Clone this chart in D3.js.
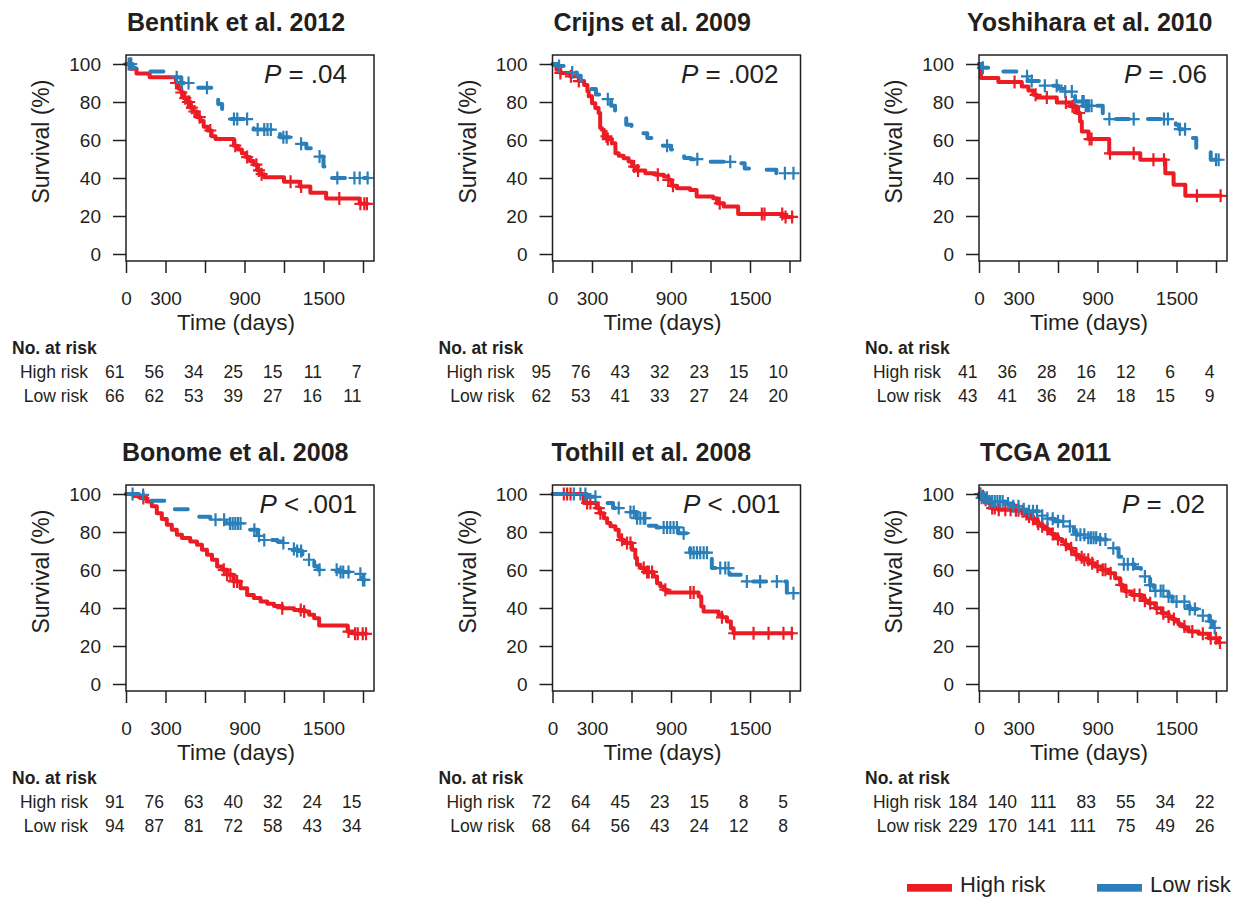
<!DOCTYPE html>
<html><head><meta charset="utf-8">
<script src="https://cdn.jsdelivr.net/npm/d3@7"></script>
<style>
body{margin:0;background:#fff}
svg{display:block}
text{font-family:"Liberation Sans",Arial,Helvetica,sans-serif;fill:#231f20}
</style>
</head><body>
<svg id="chart" width="1234" height="897"></svg>
<script>
// ---------- data ----------
const studies = ["Bentink et al. 2012","Crijns et al. 2009","Yoshihara et al. 2010","Bonome et al. 2008","Tothill et al. 2008","TCGA 2011"];
const pOps = ["=","=","=","<","<","="];
const pVals = [".04",".002",".06",".001",".001",".02"];
const groupNames = ["High risk","Low risk"];
const groupColors = ["#ec1c24","#2a7fba"];
const xTicks = [0,300,600,900,1200,1500,1800];
const xTickLabels = ["0","300","","900","","1500",""];
const yTicks = [0,20,40,60,80,100];

// step curves: [time (days), survival % after the drop]
const bentinkHigh = [[0,100],[40,97.5],[80,95],[180,93],[380,90],[400,87],[420,85],[440,82],[460,80],[490,77],[510,75],[540,72],[565,70],[590,67],[620,65],[650,62],[680,60.5],[820,57],[850,55],[880,53],[910,51],[940,49],[970,47],[1000,44],[1025,42],[1050,40.4],[1200,38],[1320,35.5],[1400,32.3],[1520,29.2],[1775,26.4]];
const bentinkHighCens = [30,380,420,450,470,480,500,520,560,640,830,920,990,1010,1030,1250,1330,1620,1780,1810,1830];
const bentinkLow = [[0,100],[50,98],[150,96],[330,93],[420,90],[520,87.5],[660,83],[700,79],[730,71],[940,68],[970,65.5],[1170,61.5],[1270,58],[1370,55.7],[1430,51.3],[1500,46],[1510,42],[1520,40]];
const bentinkLowCens = [20,40,385,425,475,615,820,845,920,1000,1050,1075,1100,1195,1220,1330,1470,1605,1735,1775,1835];

const crijnsHigh = [[0,100],[30,97],[60,95.3],[135,93.5],[200,91],[240,89],[265,85.6],[275,83],[300,79.4],[325,76.8],[350,74.2],[362,66.3],[375,65.4],[390,61.9],[415,60.5],[450,58.3],[478,53],[503,51.7],[540,50.4],[578,48.7],[605,46],[640,44],[705,42.5],[780,41.7],[845,40.8],[880,39],[905,35.9],[945,34.6],[1045,33.7],[1095,30.2],[1220,29.3],[1250,26.7],[1300,25],[1410,21],[1750,19.5]];
const crijnsHighCens = [60,140,200,410,420,620,650,800,880,915,1270,1590,1610,1745,1770,1820];
const crijnsLow = [[0,100],[40,99],[90,97],[150,95.5],[185,93.8],[215,90],[255,86.8],[330,84],[420,81.5],[445,78],[475,74],[520,71.5],[560,68],[600,66],[650,63.6],[720,61],[790,59.2],[840,57],[900,55],[950,52.2],[1000,50.5],[1050,49.9],[1200,48.5],[1360,47.8],[1460,45],[1500,44.3],[1700,42.5]];
const crijnsLowCens = [50,150,420,870,1100,1350,1765,1830];

const yoshiHigh = [[0,100],[15,92.6],[147,90.5],[325,88.2],[375,86],[413,83.8],[439,82.4],[591,79.8],[692,77.7],[743,74.2],[768,69.8],[781,64.5],[832,60.5],[989,53],[1225,49.6],[1415,42.5],[1478,36.4],[1567,30.6]];
const yoshiHighCens = [270,430,515,660,710,725,760,840,855,995,1175,1325,1405,1655,1835];
const yoshiLow = [[0,100],[20,98],[170,96],[330,93.5],[370,91],[460,88.6],[600,87],[650,85.5],[730,80.3],[800,78],[940,71],[1495,68],[1520,65.7],[1600,61],[1650,54.8],[1760,49.6]];
const yoshiLowCens = [30,365,400,500,590,655,705,785,795,810,820,835,855,990,1175,1405,1435,1525,1565,1800,1820];

const bonomeHigh = [[0,100],[56,99],[107,97.9],[158,96.1],[196,93.5],[234,89.9],[272,86.8],[310,83.8],[348,81.2],[386,78.6],[425,76.8],[488,75],[539,73.3],[577,70.7],[615,68],[653,65.4],[692,61.9],[730,60.1],[768,57.5],[819,54],[870,50.4],[920,46.9],[971,45.2],[1022,43.4],[1073,42.2],[1124,41.1],[1187,39.9],[1276,39],[1353,38.1],[1391,36.4],[1429,34.6],[1467,30.8],[1683,27.6],[1734,26.4]];
const bonomeHighCens = [132,743,768,793,819,844,1187,1327,1353,1690,1740,1760,1798,1823];
const bonomeLow = [[0,100],[120,99.5],[160,98],[190,96.5],[300,93],[360,92],[480,89.5],[530,88],[640,86.5],[760,84.5],[900,82.5],[930,81.2],[1000,78],[1030,75.8],[1150,75],[1190,74.2],[1260,71],[1300,70],[1340,67],[1370,65.4],[1430,62],[1460,60.1],[1620,59],[1750,58],[1790,56],[1800,54.8]];
const bonomeLowCens = [50,130,680,745,790,810,830,850,870,975,1010,1050,1195,1275,1300,1330,1390,1470,1600,1630,1650,1690,1780,1800,1810];

const tothillHigh = [[0,100],[238,95.3],[335,92.6],[360,89.9],[390,87.3],[415,84.7],[440,83],[478,81.2],[503,77.7],[516,75.9],[541,74.2],[604,70.7],[629,66.3],[642,62.7],[667,61],[700,59],[768,56.6],[794,53],[819,51.3],[844,49.6],[870,48.2],[1110,46],[1130,40.8],[1148,38.1],[1261,36.4],[1287,35.1],[1325,32.9],[1355,29.3],[1375,26.7]];
const tothillHighCens = [86,111,137,263,288,351,364,528,566,592,693,718,731,756,857,1047,1072,1287,1380,1527,1641,1754,1818];
const tothillLow = [[0,100],[260,98.5],[380,95.3],[460,92.6],[560,90.5],[640,87.3],[720,83.3],[790,82.4],[955,79.4],[1030,74.5],[1045,69.1],[1195,66.3],[1210,61],[1345,57.5],[1435,54],[1780,47.8]];
const tothillLowCens = [162,212,250,326,503,592,617,642,667,693,705,844,870,895,920,945,996,1047,1072,1097,1122,1148,1173,1274,1312,1337,1476,1577,1704,1830];

const tcgaHigh = [[0,100],[20,98.8],[50,97],[71,95.3],[96,92.6],[147,91.7],[248,91.4],[325,90.9],[350,89.5],[375,88.2],[400,87],[426,85.6],[450,84.3],[477,83],[500,81.6],[527,80.3],[550,79],[578,77.7],[600,76.3],[629,75],[655,73.3],[680,71.5],[705,69.8],[730,68],[755,66.7],[781,65.4],[832,63.6],[882,61.9],[933,60.1],[984,58.3],[1034,55.7],[1072,52.2],[1090,50.5],[1111,48.7],[1161,46.9],[1237,45.2],[1260,43.8],[1288,42.5],[1339,39.9],[1389,37.3],[1440,35.5],[1465,34.2],[1491,32.9],[1515,31.5],[1542,30.2],[1565,28.9],[1592,27.6],[1668,26.4],[1744,24.1],[1820,21.8]];
const tcgaHighCens = [10,30,50,80,100,120,150,200,240,280,300,330,360,380,410,450,480,520,560,600,660,700,740,780,800,830,860,900,940,960,1000,1080,1120,1180,1220,1260,1300,1350,1400,1440,1480,1560,1620,1700,1760,1800,1830];
const tcgaLow = [[0,100],[20,98],[70,96],[200,95],[260,93.5],[320,92],[360,90.9],[470,88.6],[520,87],[570,85.6],[650,83],[720,80],[740,78.6],[830,77],[900,76],[970,73],[1000,71.5],[1060,67],[1085,63],[1180,61],[1230,58],[1260,56.6],[1300,52],[1330,49],[1440,46],[1470,43.4],[1580,41],[1600,39.5],[1690,36],[1750,33],[1775,29.5]];
const tcgaLowCens = [10,20,40,60,80,100,120,140,160,180,220,260,300,340,380,410,440,480,520,560,600,640,690,740,770,800,830,850,870,890,920,960,1020,1100,1130,1170,1260,1300,1340,1380,1400,1440,1500,1560,1600,1640,1700,1760,1790];

const riskHigh = [[61,56,34,25,15,11,7],[95,76,43,32,23,15,10],[41,36,28,16,12,6,4],[91,76,63,40,32,24,15],[72,64,45,23,15,8,5],[184,140,111,83,55,34,22]];
const riskLow  = [[66,62,53,39,27,16,11],[62,53,41,33,27,24,20],[43,41,36,24,18,15,9],[94,87,81,72,58,43,34],[68,64,56,43,24,12,8],[229,170,141,111,75,49,26]];

const curvesHigh = [bentinkHigh,crijnsHigh,yoshiHigh,bonomeHigh,tothillHigh,tcgaHigh];
const censHigh = [bentinkHighCens,crijnsHighCens,yoshiHighCens,bonomeHighCens,tothillHighCens,tcgaHighCens];
const curvesLow = [bentinkLow,crijnsLow,yoshiLow,bonomeLow,tothillLow,tcgaLow];
const censLow = [bentinkLowCens,crijnsLowCens,yoshiLowCens,bonomeLowCens,tothillLowCens,tcgaLowCens];

// ---------- layout ----------
const INK = "#231f20";
const titleDx = [1, 1, -12, -4, -1, 1];
const pRight = [221, 226, 228, 231, 228, 226];
const svg = d3.select("#chart");
svg.append("rect").attr("width",1234).attr("height",897).attr("fill","#fff");

function survAt(steps, t){
  let s = 100;
  for (const [tt, ss] of steps){ if (tt <= t) s = ss; else break; }
  return s;
}

function drawPanel(i){
  const c = i % 3, r = Math.floor(i / 3);
  const x0 = 126 + c * 426.5, T = 55 + r * 430;
  const x = d3.scaleLinear().domain([0,1800]).range([x0, x0 + 237]);
  const y = d3.scaleLinear().domain([0,100]).range([T + 199, T + 9]);
  const g = svg.append("g");

  const groups = [
    {steps: curvesHigh[i], cens: censHigh[i], color: groupColors[0], dash: null},
    {steps: curvesLow[i], cens: censLow[i], color: groupColors[1], dash: "13,19"}
  ];
  const line = d3.line().x(d => x(d[0])).y(d => y(d[1])).curve(d3.curveStepAfter);
  groups.forEach(grp => {
    const tEnd = Math.max(d3.max(grp.cens), grp.steps[grp.steps.length-1][0]);
    const pts = grp.steps.concat([[tEnd, grp.steps[grp.steps.length-1][1]]]);
    g.append("path").datum(pts).attr("d", line)
      .attr("fill","none").attr("stroke", grp.color).attr("stroke-width",4)
      .attr("stroke-linecap","round").attr("stroke-linejoin","round")
      .attr("stroke-dasharray", grp.dash);
    g.append("g").selectAll("path").data(grp.cens).join("path")
      .attr("d", t => {
        const cx = x(t), cy = y(survAt(grp.steps, t));
        return `M${cx-6},${cy}H${cx+6}M${cx},${cy-6.5}V${cy+6.5}`;
      })
      .attr("stroke", grp.color).attr("stroke-width",2.2).attr("fill","none");
  });

  // box
  g.append("rect").attr("x", x0).attr("y", T).attr("width", 248).attr("height", 206)
    .attr("fill","none").attr("stroke", INK).attr("stroke-width",1.5);

  // axes
  const xa = d3.axisBottom(x).tickValues(xTicks).tickSize(12).tickPadding(19)
    .tickFormat((d, j) => xTickLabels[j]);
  const gx = g.append("g").attr("transform", `translate(0,${T + 206})`).call(xa);
  const ya = d3.axisLeft(y).tickValues(yTicks).tickSize(13).tickPadding(12);
  const gy = g.append("g").attr("transform", `translate(${x0},0)`).call(ya);
  [gx, gy].forEach(ax => {
    ax.select(".domain").remove();
    ax.selectAll(".tick line").attr("stroke", INK).attr("stroke-width",1.5);
    ax.selectAll(".tick text").attr("fill", INK).style("font-size","19px")
      .style("font-family",'"Liberation Sans",Arial,Helvetica,sans-serif');
  });

  // title
  g.append("text").attr("x", x0 + titleDx[i]).attr("y", T - 24)
    .style("font-size","25px").style("font-weight","bold").text(studies[i]);

  // P value
  const pt = g.append("text").attr("x", x0 + pRight[i]).attr("y", T + 28)
    .attr("text-anchor","end").style("font-size","26px");
  pt.append("tspan").style("font-style","italic").text("P");
  pt.append("tspan").text(" " + pOps[i] + " " + pVals[i]);

  // axis titles
  g.append("text").attr("transform", `translate(${x0 - 77},${T + 86.5}) rotate(-90)`)
    .attr("text-anchor","middle").style("font-size","23px").text("Survival (%)");
  g.append("text").attr("x", x0 + 110).attr("y", T + 275)
    .attr("text-anchor","middle").style("font-size","22.5px").text("Time (days)");

  // number at risk table
  g.append("text").attr("x", x0 - 114).attr("y", T + 299)
    .style("font-size","17.5px").style("font-weight","bold").text("No. at risk");
  [riskHigh[i], riskLow[i]].forEach((row, k) => {
    const yy = T + 323 + k * 24;
    g.append("text").attr("x", x0 - 38).attr("y", yy).attr("text-anchor","end")
      .style("font-size","17.5px").text(groupNames[k]);
    g.append("g").selectAll("text").data(row).join("text")
      .attr("x", (d, j) => x(xTicks[j]) - 1.5).attr("y", yy)
      .attr("text-anchor","end").style("font-size","17.5px").text(d => d);
  });
}

studies.forEach((s, i) => drawPanel(i));

// legend
const legX = [907, 1097];
groupNames.forEach((name, k) => {
  svg.append("rect").attr("x", legX[k]).attr("y", 884).attr("width", 45).attr("height", 7.7)
    .attr("fill", groupColors[k]);
  svg.append("text").attr("x", legX[k] + 53).attr("y", 892)
    .style("font-size","22px").text(name);
});
</script>
</body></html>
